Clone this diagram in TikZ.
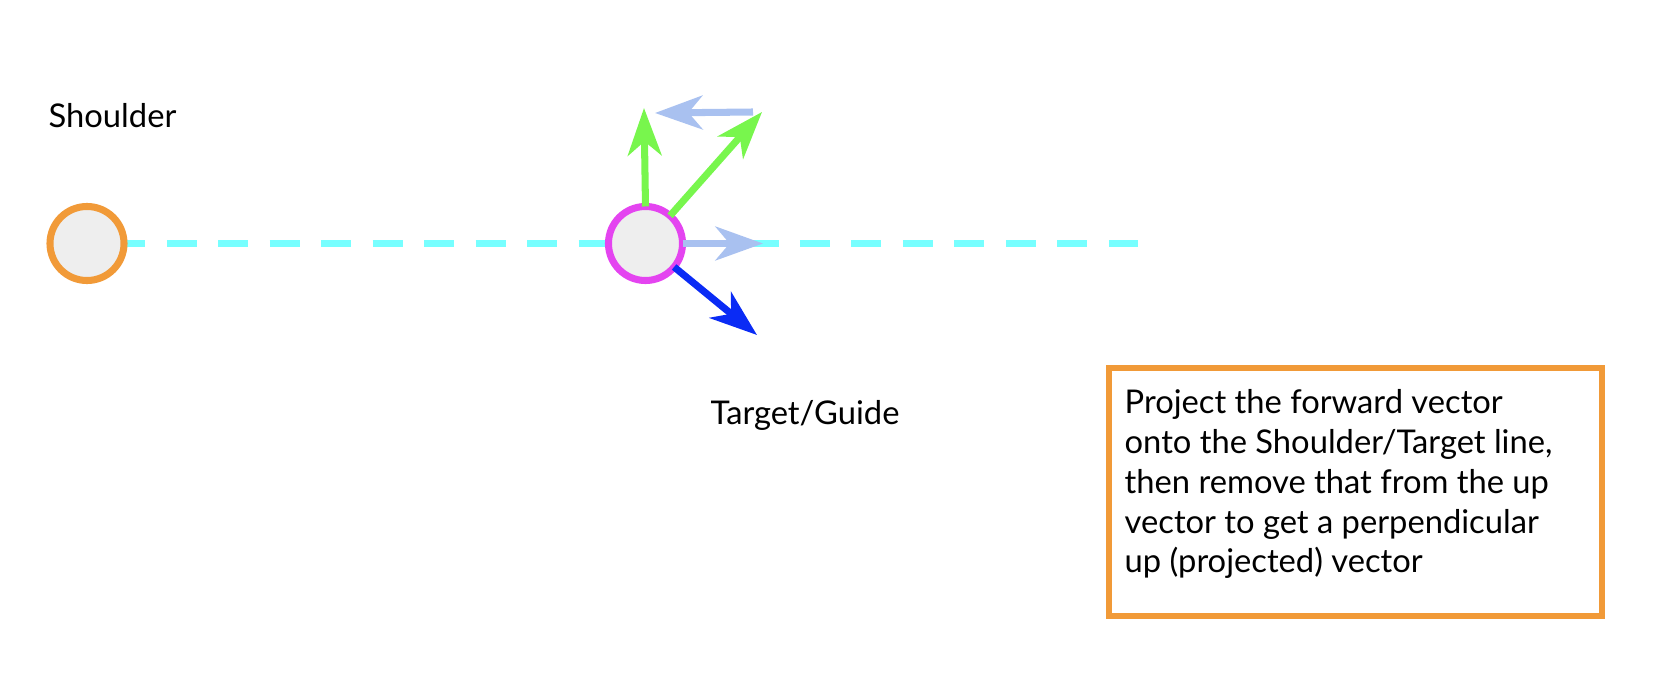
\documentclass[tikz,border=0pt]{standalone}
\usepackage{fontspec}
\setmainfont{Lato}
\usetikzlibrary{arrows.meta}
\definecolor{cOrange}{HTML}{F19A38}
\definecolor{cMagenta}{HTML}{E444F0}
\definecolor{cGreen}{HTML}{78F64D}
\definecolor{cLightBlue}{HTML}{A9C1F0}
\definecolor{cBlue}{HTML}{0A2BF5}
\definecolor{cCyan}{HTML}{77FFFF}
\definecolor{cFill}{HTML}{EEEEEE}
\tikzset{
  joint/.style={circle, draw, fill=cFill, line width=2pt, minimum size=0.74cm, inner sep=0pt, outer sep=0pt},
  vec/.style={line width=2pt, -{Stealth[length=13.5pt, width=9.6pt, inset=4pt]}},
  guide/.style={cCyan, line width=2pt, dash pattern=on 8.54pt off 6.1pt},
  lbl/.style={font=\fontsize{9.3}{11.3}\selectfont, inner sep=0pt, anchor=base west},
}
\begin{document}
\begin{tikzpicture}[x=0.01cm, y=-0.01cm]
\useasboundingbox (0,0) rectangle (1668,682);
% coordinates
\coordinate (shoulderC) at (87,243.5);
\coordinate (targetC) at (645.5,243.5);
\coordinate (lineEnd) at (1138,243.5);
\coordinate (upTip) at (644,108);
\coordinate (diagTip) at (762,112);
\coordinate (projStart) at (753,112);
\coordinate (projTip) at (655,113);
\coordinate (fwdProjTip) at (763,243.5);
\coordinate (fwdTip) at (757,335);
% dashed guide line
\draw[guide, dash phase=6.6pt] (shoulderC) -- (targetC);
\draw[guide] (targetC) -- (lineEnd);
% joints
\node[joint, draw=cOrange] (shoulder) at (shoulderC) {};
\node[joint, draw=cMagenta] (target) at (targetC) {};
% vectors
\draw[vec, cGreen] (target.north) -- (upTip);
\draw[vec, cGreen] (target) -- (diagTip);
\draw[vec, cLightBlue] (projStart) -- (projTip);
\draw[vec, cLightBlue] (target.east) -- (fwdProjTip);
\draw[vec, cBlue] (target) -- (fwdTip);
% labels
\node[lbl] (shoulderLbl) at (48,128) {Shoulder};
\node[lbl] (targetLbl) at (710,425) {Target/Guide};
% note box
\node[draw=cOrange, line width=1.7pt, minimum width=4.93cm, minimum height=2.48cm, anchor=north west, inner sep=0pt] (noteBox) at (1106,365) {};
\node[font=\fontsize{9.3}{11.3}\selectfont, align=left, anchor=north west, inner sep=0pt] (noteText) at (1124,389)
  {Project the forward vector\\onto the Shoulder/Target line,\\then remove that from the up\\vector to get a perpendicular\\up (projected) vector};
\end{tikzpicture}
\end{document}
